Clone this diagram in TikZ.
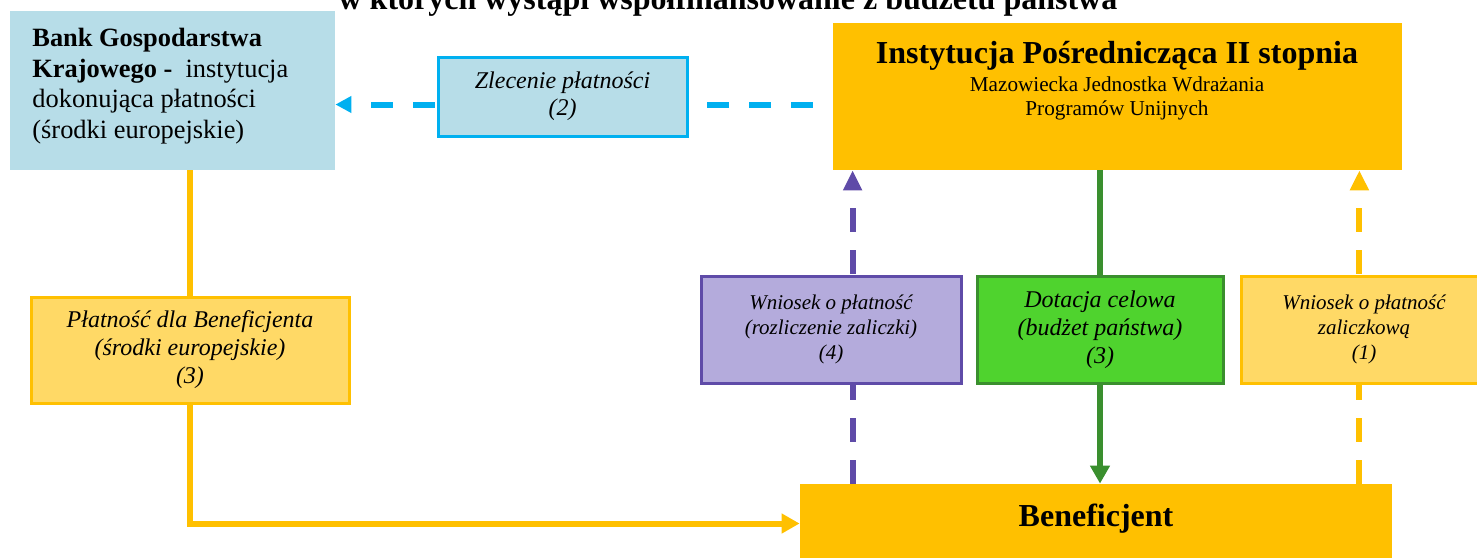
\documentclass[tikz,border=0pt]{standalone}
\usepackage{fontspec}
\setmainfont{Liberation Serif}
\usetikzlibrary{arrows.meta,backgrounds}

\definecolor{bgkblue}{HTML}{B7DDE8}
\definecolor{flowcyan}{HTML}{00B0F0}
\definecolor{ipgold}{HTML}{FFC000}
\definecolor{paleyellow}{HTML}{FFD966}
\definecolor{lavender}{HTML}{B4ABDC}
\definecolor{advviolet}{HTML}{5F4BA8}
\definecolor{grantgreen}{HTML}{4FD32E}
\definecolor{grantdark}{HTML}{3A8F2E}

\begin{document}
\begin{tikzpicture}[x=0.5pt, y=-0.5pt]
    \tikzset{box/.style = {rectangle, inner sep=0pt, align=center}}
    \tikzset{flowbox/.style = {box, line width=1.5pt, minimum height=53.5pt}}
    \tikzset{flow/.style = {line width=3pt}}
    \tikzset{dashflow/.style = {flow, dash pattern=on 12pt off 9pt}}
    \tikzset{tip/.style = {-{Triangle[length=9pt,width=9.5pt]}}}
    \tikzset{uptip/.style = {-{Triangle[length=10pt,width=9pt]}}}

    \useasboundingbox (0,0) rectangle (1477,557);

    % title, cut by the top of the page
    \node[anchor=base, font=\fontsize{16}{18}\selectfont\bfseries] (title) at (728,10)
        {w których wystąpi współfinansowanie z budżetu państwa};

    % institutions
    \node[box, fill=bgkblue, minimum width=162.5pt, minimum height=79.5pt] (bank) at (172.5,90.5) {};
    \node[anchor=north west, align=left, inner sep=0pt, font=\fontsize{13.2}{15.25}\selectfont] (banktxt) at (32,28)
        {\textbf{Bank Gospodarstwa}\\\textbf{Krajowego -}\ \ instytucja\\dokonująca płatności\\(środki europejskie)};

    \node[box, fill=ipgold, minimum width=284.5pt, minimum height=73.5pt] (ip) at (1117.5,96.5) {};
    \node[anchor=base, inner sep=0pt, font=\fontsize{16}{18}\selectfont\bfseries] (iptitle) at (1117,63)
        {Instytucja Pośrednicząca II stopnia};
    \node[anchor=north, align=center, inner sep=0pt, font=\fontsize{10.6}{12}\selectfont] (ipname) at (1117,76.5)
        {Mazowiecka Jednostka Wdrażania\\Programów Unijnych};

    \node[box, fill=ipgold, minimum width=296pt, minimum height=39.5pt, text height=11pt, text depth=8.5pt,
        font=\fontsize{16}{18}\selectfont\bfseries] (benef) at (1096,523.5) {Beneficjent};

    % flow labels
    \node[box, fill=bgkblue, draw=flowcyan, line width=1.5pt, minimum width=124.5pt, minimum height=39.5pt,
        font=\fontsize{12}{13.5}\selectfont\itshape] (zlec) at (562.5,96.5) {Zlecenie płatności\\(2)};
    \node[flowbox, fill=paleyellow, draw=ipgold, minimum width=159pt, minimum height=53pt,
        font=\fontsize{12}{14}\selectfont\itshape] (plat) at (190,350)
        {Płatność dla Beneficjenta\\(środki europejskie)\\(3)};
    \node[flowbox, fill=lavender, draw=advviolet, minimum width=130pt,
        font=\fontsize{10.5}{12.5}\selectfont\itshape] (wnio4) at (831,329.5)
        {Wniosek o płatność\\(rozliczenie zaliczki)\\(4)};
    \node[flowbox, fill=grantgreen, draw=grantdark, minimum width=123pt,
        font=\fontsize{12}{14}\selectfont\itshape] (dot) at (1100,330)
        {Dotacja celowa\\(budżet państwa)\\(3)};
    \node[flowbox, fill=paleyellow, draw=ipgold, minimum width=123pt,
        font=\fontsize{10.5}{12.5}\selectfont\itshape] (wnio1) at (1364,329.5)
        {Wniosek o płatność\\zaliczkową\\(1)};

    % connectors
    \begin{scope}[on background layer]
        \coordinate (zlecin) at ([yshift=-4pt]ip.west);
        \coordinate (p4top) at ([xshift=10pt]ip.south west);
        \coordinate (p1top) at ([xshift=-21.5pt]ip.south east);

        \draw[flowcyan, line width=3pt, dash pattern=on 11pt off 10pt, dash phase=11pt,
            -{Triangle[length=8pt,width=8pt]}] (zlecin) -- (zlecin -| bank.east);
        \draw[advviolet, dashflow, uptip] (p4top |- benef.north) -- (p4top);
        \draw[grantdark, flow, tip] (dot |- ip.south) -- (dot |- benef.north);
        \draw[ipgold, dashflow, uptip] (p1top |- benef.north) -- (p1top);
        \draw[ipgold, flow] (plat |- bank.south) -- (plat.north);
        \draw[ipgold, flow, tip] (plat.south) |- (benef.west);
    \end{scope}

\end{tikzpicture}
\end{document}
